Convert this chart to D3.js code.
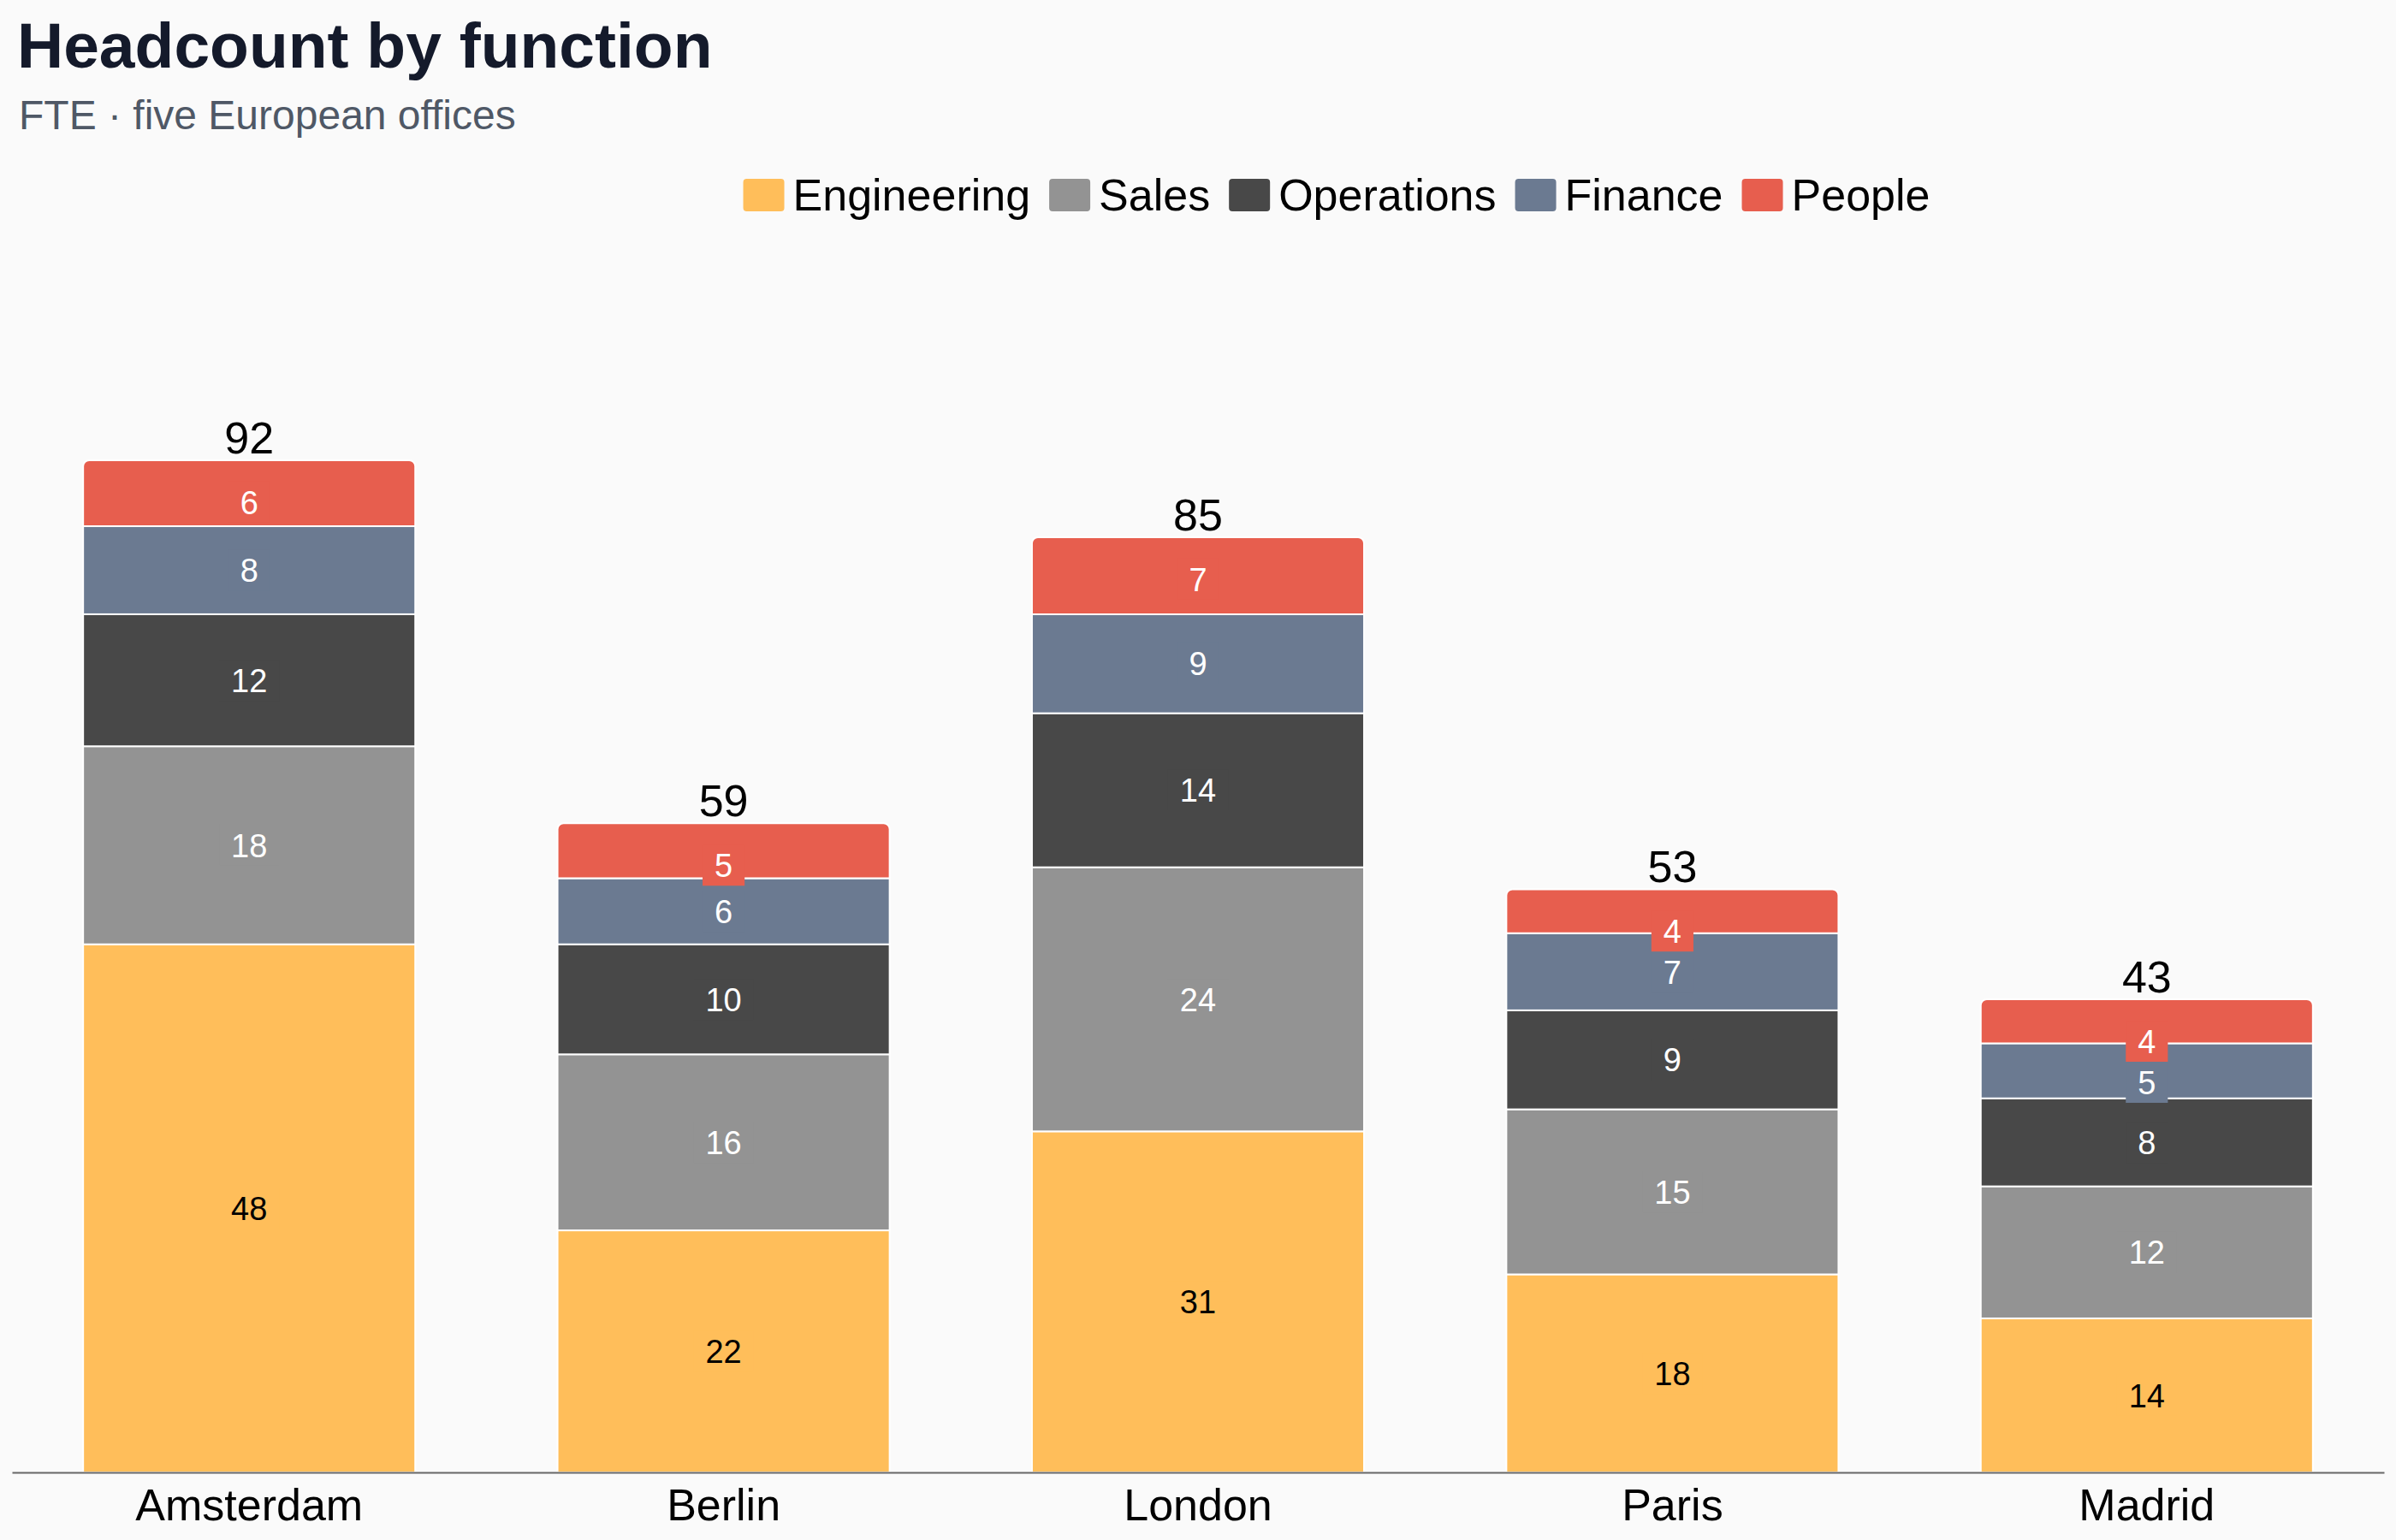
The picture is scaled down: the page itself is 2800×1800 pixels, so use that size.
<!DOCTYPE html>
<html>
<head>
<meta charset="utf-8">
<script src="https://cdn.jsdelivr.net/npm/d3@7"></script>
<style>
  html, body { margin: 0; padding: 0; background: #fafafa; }
  svg { display: block; font-family: "Liberation Sans", Arial, Helvetica, sans-serif; }
</style>
</head>
<body>
<svg id="chart"></svg>
<script>
// offices along the x axis
var offices = ["Amsterdam", "Berlin", "London", "Paris", "Madrid"];
// functions, bottom to top of each stack
var functions = ["Engineering", "Sales", "Operations", "Finance", "People"];
// FTE per function, one value per office
var engineering = [48, 22, 31, 18, 14];
var sales = [18, 16, 24, 15, 12];
var operations = [12, 10, 14, 9, 8];
var finance = [8, 6, 9, 7, 5];
var people = [6, 5, 7, 4, 4];
var colors = ["#ffbe5a", "#939393", "#484848", "#6b7a91", "#e75e4e"];

var width = 2800, height = 1800;
var margin = {top: 435, right: 14, bottom: 79, left: 14};

var svg = d3.select("#chart").attr("width", width).attr("height", height);
svg.append("rect").attr("width", width).attr("height", height).attr("fill", "#fafafa");

// title block
svg.append("text").attr("x", 20).attr("y", 79)
  .attr("font-size", 75).attr("font-weight", "bold").attr("fill", "#141a2b")
  .text("Headcount by function");
svg.append("text").attr("x", 22).attr("y", 151)
  .attr("font-size", 48).attr("fill", "#4f5866")
  .text("FTE · five European offices");

// build rows for the stack
var seriesValues = [engineering, sales, operations, finance, people];
var rows = offices.map(function(o, i) {
  var r = {office: o};
  functions.forEach(function(f, j) { r[f] = seriesValues[j][i]; });
  return r;
});
var stacked = d3.stack().keys(functions)(rows);
var totals = rows.map(function(r) { return d3.sum(functions, function(f) { return r[f]; }); });

var x = d3.scaleBand()
  .domain(offices)
  .range([margin.left, width - margin.right])
  .paddingInner(0.3)
  .paddingOuter(0.15);

var y = d3.scaleLinear()
  .domain([0, 100])
  .range([height - margin.bottom, margin.top]);

var g = svg.append("g");

// bars
var radius = 7;
stacked.forEach(function(layer, li) {
  layer.forEach(function(d, i) {
    var x0 = x(offices[i]), w = x.bandwidth();
    var yTop = y(d[1]), yBot = y(d[0]);
    if (li === functions.length - 1) {
      // top segment gets rounded top corners
      var p = d3.path();
      p.moveTo(x0, yBot);
      p.lineTo(x0, yTop + radius);
      p.arcTo(x0, yTop, x0 + radius, yTop, radius);
      p.lineTo(x0 + w - radius, yTop);
      p.arcTo(x0 + w, yTop, x0 + w, yTop + radius, radius);
      p.lineTo(x0 + w, yBot);
      p.closePath();
      g.append("path").attr("d", p.toString())
        .attr("fill", colors[li]).attr("stroke", "#ffffff").attr("stroke-width", 2);
    } else {
      g.append("rect")
        .attr("x", x0).attr("y", yTop)
        .attr("width", w).attr("height", yBot - yTop)
        .attr("fill", colors[li]).attr("stroke", "#ffffff").attr("stroke-width", 2);
    }
  });
});

// segment labels, pushed down when crowded near the top
var labels = svg.append("g");
offices.forEach(function(o, i) {
  var prev = y(totals[i]) + 1;
  for (var li = functions.length - 1; li >= 0; li--) {
    var d = stacked[li][i];
    var mid = (y(d[0]) + y(d[1])) / 2;
    var cy = Math.max(mid, prev + 48);
    prev = cy;
    var cx = x(o) + x.bandwidth() / 2;
    var lg = labels.append("g");
    var box = lg.append("rect").attr("fill", colors[li]);
    var t = lg.append("text")
      .attr("x", cx).attr("y", cy).attr("dy", "0.36em")
      .attr("text-anchor", "middle").attr("font-size", 38)
      .attr("fill", li === 0 ? "#000000" : "#ffffff")
      .text(d.data[functions[li]]);
    var tw = t.node().getComputedTextLength();
    box.attr("x", cx - tw / 2 - 14).attr("y", cy - 24)
      .attr("width", tw + 28).attr("height", 48);
  }
});

// totals above each stack
svg.append("g").selectAll("text")
  .data(offices)
  .enter().append("text")
  .attr("x", function(d) { return x(d) + x.bandwidth() / 2; })
  .attr("y", function(d, i) { return y(totals[i]) - 8; })
  .attr("text-anchor", "middle").attr("font-size", 52).attr("fill", "#000")
  .text(function(d, i) { return totals[i]; });

// x axis
var axis = svg.append("g")
  .attr("transform", "translate(0," + y(0) + ")")
  .call(d3.axisBottom(x).tickSize(0).tickPadding(19));
axis.select(".domain").attr("stroke", "#666666").attr("stroke-width", 2);
axis.selectAll("text").attr("font-size", 52).attr("fill", "#000")
  .attr("font-family", "'Liberation Sans', Arial, sans-serif");

// legend
var legend = svg.append("g");
var lx = 0;
functions.forEach(function(f, i) {
  legend.append("rect").attr("x", lx).attr("y", 209)
    .attr("width", 48).attr("height", 38).attr("rx", 4).attr("fill", colors[i]);
  var t = legend.append("text").attr("x", lx + 58).attr("y", 246)
    .attr("font-size", 52).attr("fill", "#000").text(f);
  lx += 58 + t.node().getComputedTextLength() + 22;
});
var legendWidth = lx - 22;
legend.attr("transform", "translate(" + (1562 - legendWidth / 2) + ",0)");
</script>
</body>
</html>
